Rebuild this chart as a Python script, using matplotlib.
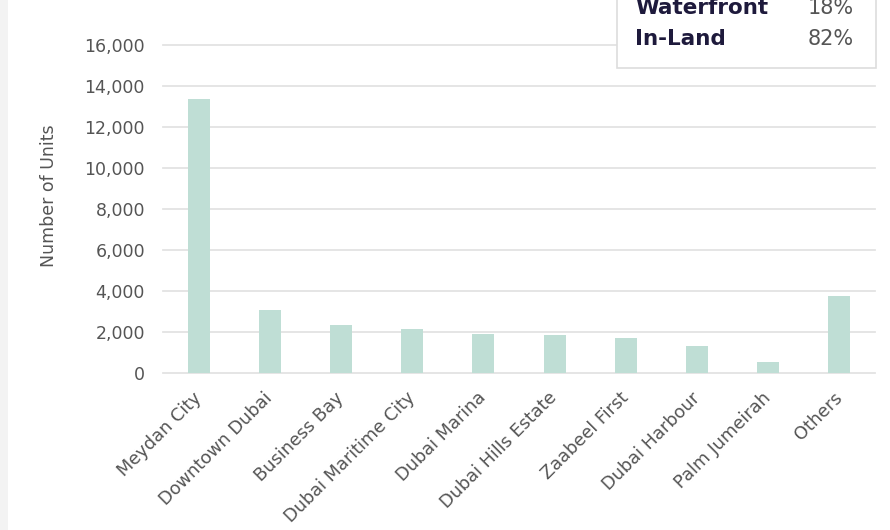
import matplotlib.pyplot as plt
from matplotlib.patches import Rectangle
from matplotlib.ticker import FuncFormatter

areas = ["Meydan City", "Downtown Dubai", "Business Bay", "Dubai Maritime City",
         "Dubai Marina", "Dubai Hills Estate", "Zaabeel First", "Dubai Harbour",
         "Palm Jumeirah", "Others"]
units = [13350, 3090, 2360, 2160, 1920, 1870, 1690, 1330, 520, 3740]
split_labels = ["Waterfront", "In-Land"]
split_shares = ["18%", "82%"]

bar_color = "#bfded5"
grid_color = "#e3e3e3"
text_color = "#555555"
navy = "#1e1a3c"

plt.rcParams['font.family'] = ['DejaVu Sans']

fig = plt.figure(figsize=(8.9, 5.3), dpi=100)
fig.patches.append(Rectangle((0, 0), 8 / 890, 1, transform=fig.transFigure,
                             facecolor="#f3f3f3", edgecolor="none"))

ax = fig.add_axes([163 / 890, 1 - 373 / 530, 712 / 890, 328 / 530])
ax.bar(range(len(areas)), units, width=0.31, color=bar_color, zorder=2)
ax.set_xlim(-0.5, len(areas) - 0.5)
ax.set_ylim(0, 16000)
ax.set_yticks(range(0, 16001, 2000))
ax.yaxis.set_major_formatter(FuncFormatter(lambda v, p: "{:,.0f}".format(v)))
ax.grid(axis="y", color=grid_color, linewidth=1.3, zorder=0)
for line in ax.get_ygridlines():
    line.set_clip_on(False)
for s in ax.spines.values():
    s.set_visible(False)
ax.tick_params(length=0, labelcolor=text_color)
ax.tick_params(axis="y", labelsize=12.5, pad=13)
ax.tick_params(axis="x", labelsize=12.8, pad=16)
ax.set_xticks(range(len(areas)))
ax.set_xticklabels(areas, rotation=45, ha="right", va="center",
                   rotation_mode="anchor")
ax.set_ylabel("Number of Units", fontsize=12.5, color=text_color)
ax.yaxis.set_label_coords(-0.148, 0.54)

# split box at the top right (its top row runs past the figure edge)
fig.patches.append(Rectangle((617 / 890, 1 - 68 / 530), 259 / 890, 0.2,
                             transform=fig.transFigure, facecolor="white",
                             edgecolor="#dddddd", linewidth=1.2, zorder=5))
for i, (lab, share) in enumerate(zip(split_labels, split_shares)):
    y = 1 - (14 + 31 * i) / 530
    fig.text(635 / 890, y, lab, fontsize=15.5, fontweight="bold", color=navy,
             va="baseline", zorder=6)
    fig.text(854 / 890, y, share, fontsize=15, color=text_color,
             ha="right", va="baseline", zorder=6)

fig.savefig("out.png", dpi=100)
